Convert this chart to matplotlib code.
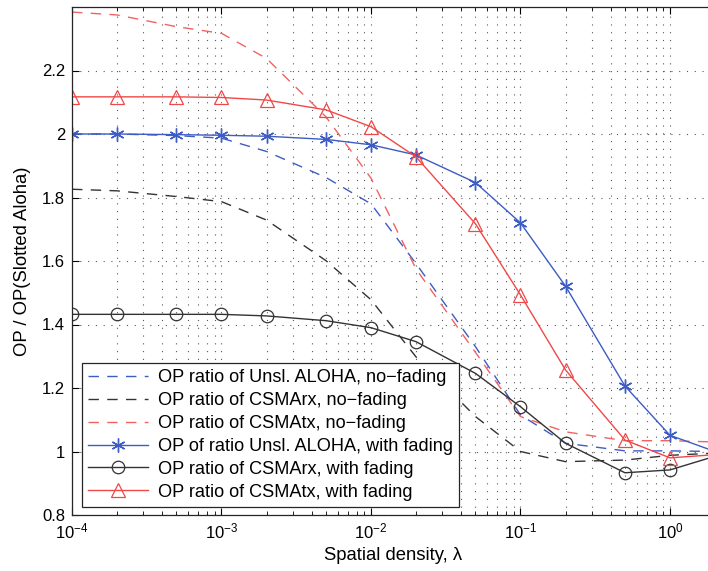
import matplotlib
matplotlib.use("Agg")
import matplotlib.pyplot as plt
from matplotlib.ticker import FixedLocator, FuncFormatter, LogLocator, NullFormatter

plt.rcParams['font.family'] = ['Liberation Sans', 'DejaVu Sans']
plt.rcParams['mathtext.fontset'] = 'custom'
plt.rcParams['mathtext.rm'] = 'Liberation Sans'
plt.rcParams['mathtext.it'] = 'Liberation Sans:italic'
plt.rcParams['mathtext.bf'] = 'Liberation Sans:bold'

# x positions (spatial density)
lam = [1e-4, 2e-4, 5e-4, 1e-3, 2e-3, 5e-3, 1e-2, 2e-2, 5e-2, 1e-1, 2e-1, 5e-1, 1.0, 2.0]

# no-fading (dashed)
unsl_nofade   = [2.000, 2.000, 1.995, 1.987, 1.945, 1.863, 1.780, 1.592, 1.330, 1.115, 1.026, 1.002, 1.002, 1.000]
csmarx_nofade = [1.826, 1.821, 1.803, 1.787, 1.729, 1.601, 1.478, 1.298, 1.110, 1.000, 0.968, 0.973, 0.988, 0.995]
csmatx_nofade = [2.384, 2.375, 2.338, 2.317, 2.238, 2.054, 1.861, 1.575, 1.312, 1.110, 1.062, 1.034, 1.034, 1.030]

# with fading (markers)
unsl_fade   = [2.000, 2.000, 1.998, 1.996, 1.993, 1.983, 1.966, 1.934, 1.847, 1.720, 1.521, 1.206, 1.051, 1.000]
csmarx_fade = [1.432, 1.432, 1.432, 1.432, 1.427, 1.412, 1.390, 1.346, 1.246, 1.141, 1.026, 0.933, 0.942, 0.985]
csmatx_fade = [2.117, 2.117, 2.117, 2.115, 2.107, 2.076, 2.023, 1.928, 1.717, 1.493, 1.257, 1.036, 0.980, 0.990]

labels = [
    "OP ratio of Unsl. ALOHA, no\u2212fading",
    "OP ratio of CSMArx, no\u2212fading",
    "OP ratio of CSMAtx, no\u2212fading",
    "OP of ratio Unsl. ALOHA, with fading",
    "OP ratio of CSMArx, with fading",
    "OP ratio of CSMAtx, with fading",
]

yticks = [0.8, 1.0, 1.2, 1.4, 1.6, 1.8, 2.0, 2.2]

blue = '#3d5cc4'
black = '#333333'
red = '#f04848'
red_d = '#f26262'

W, H = 708, 571
fig = plt.figure(figsize=(W / 100, H / 100), dpi=100)
left, right, top, bottom = 72, 715, 7, 515
ax = fig.add_axes([left / W, (H - bottom) / H, (right - left) / W, (bottom - top) / H])

dash = (0, (7.5, 6))
ax.plot(lam, unsl_nofade, color=blue, ls=dash, lw=1.0, label=labels[0])
ax.plot(lam, csmarx_nofade, color=black, ls=dash, lw=1.0, label=labels[1])
ax.plot(lam, csmatx_nofade, color=red_d, ls=dash, lw=1.0, label=labels[2])
ax.plot(lam, unsl_fade, color=blue, lw=1.0, marker=(6, 2, 0), ms=10, mew=1.0, label=labels[3])
ax.plot(lam, csmarx_fade, color=black, lw=1.0, marker='o', ms=9, mfc='none', mew=0.9, label=labels[4])
ax.plot(lam, csmatx_fade, color=red, lw=1.0, marker='^', ms=10.5, mfc='none', mew=0.9, label=labels[5])

ax.set_xscale('log')
ax.set_xlim(1e-4, 2.0)
ax.set_ylim(0.8, 2.4)
ax.yaxis.set_major_locator(FixedLocator(yticks))
ax.yaxis.set_major_formatter(FuncFormatter(lambda v, p: '%g' % v))
ax.xaxis.set_major_locator(LogLocator(base=10, numticks=20))
ax.xaxis.set_minor_locator(LogLocator(base=10, subs=[2, 3, 4, 5, 6, 7, 8, 9], numticks=40))
ax.xaxis.set_minor_formatter(NullFormatter())

grid_ls = (0, (1, 6))
ax.grid(True, which='major', axis='both', color='0.35', ls=grid_ls, lw=0.8)
ax.grid(True, which='minor', axis='x', color='0.35', ls=grid_ls, lw=0.8)
ax.set_axisbelow(True)

ax.tick_params(which='both', direction='in', top=True, right=True)
ax.tick_params(which='major', length=5, width=0.8, labelsize=12, pad=5)
ax.tick_params(which='minor', length=3, width=0.6)
for s in ax.spines.values():
    s.set_linewidth(0.9)
    s.set_color('0.15')

ax.set_xlabel("Spatial density, \u03bb", fontsize=13.3, labelpad=4)
ax.set_ylabel("OP / OP(Slotted Aloha)", fontsize=13.3, labelpad=8)

leg = ax.legend(loc='lower left', bbox_to_anchor=(0.0156, 0.0158), borderaxespad=0,
                fontsize=13.1, handlelength=3.3, handletextpad=0.5, labelspacing=0.32,
                borderpad=0.35, fancybox=False, framealpha=1, edgecolor='0.15')
leg.get_frame().set_linewidth(0.9)

fig.savefig("out.png", dpi=100)
